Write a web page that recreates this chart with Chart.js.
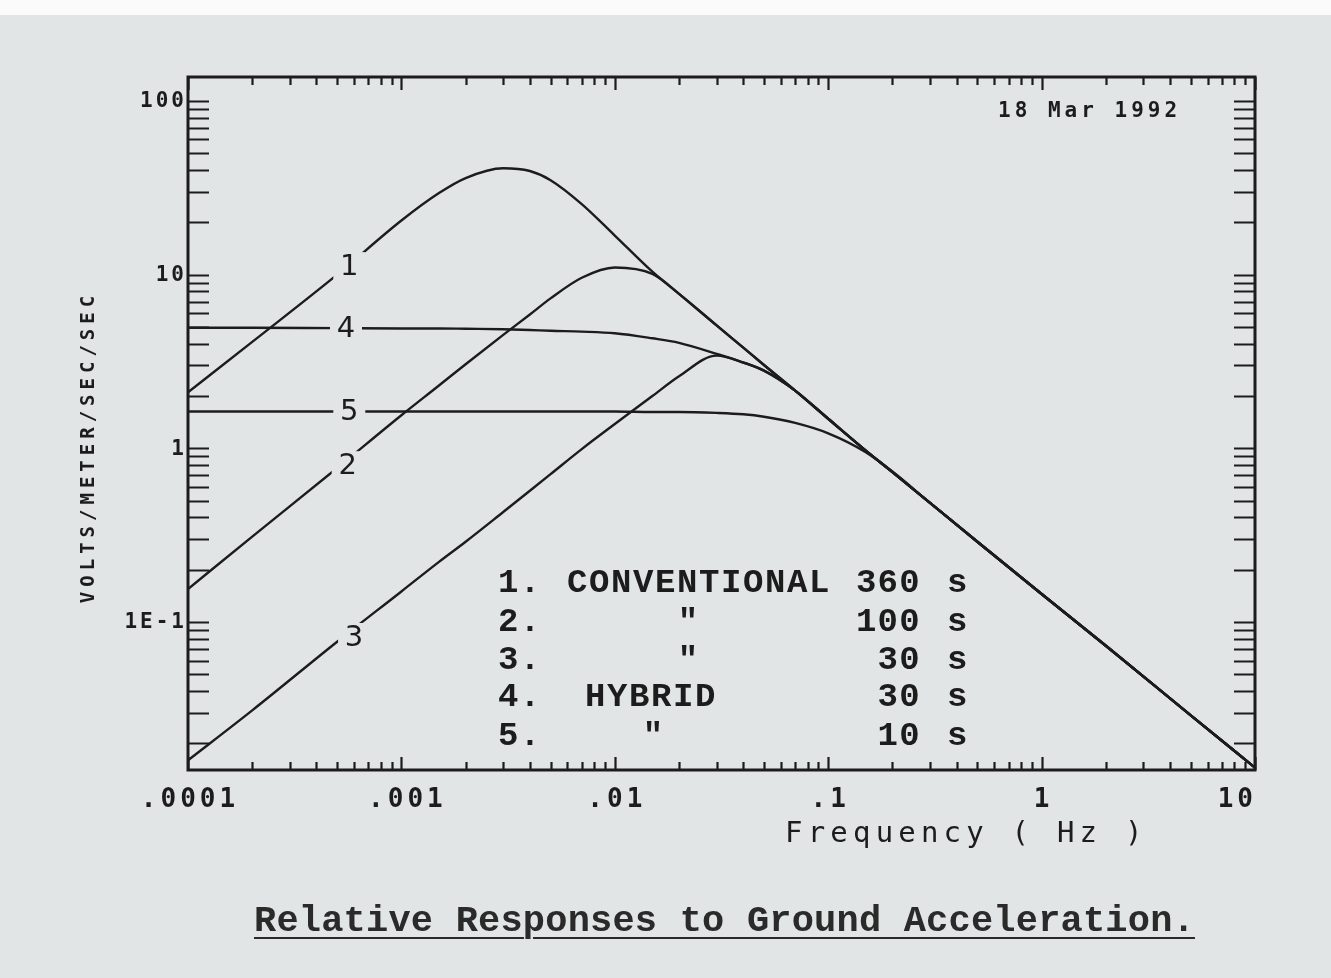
<!doctype html>
<html lang="en">
<head>
    <title>Relative Responses to Ground Acceleration</title>
    <meta charset="UTF-8">
    <style>
        html, body { margin: 0; padding: 0; background: #e2e5e5; overflow: hidden; }
        #strip { position: absolute; left: 0; top: 0; width: 1331px; height: 15px; background: #fbfbfb; }
        #wrap { position: absolute; left: 0; top: 0; width: 1331px; height: 978px; }
        #caption {
            position: absolute; left: 254px; top: 900px;
            font: bold 37px "Liberation Mono", monospace; color: #2a2a2a;
            text-decoration: underline; text-decoration-thickness: 2px; text-underline-offset: 6px;
            white-space: nowrap; letter-spacing: 0.2px;
        }
    </style>
</head>
<body>
    <div id="strip"></div>
    <div id="wrap"><canvas id="resp" width="1331" height="978"></canvas></div>
    <div id="caption">Relative Responses to Ground Acceleration.</div>
<script src="https://cdn.jsdelivr.net/npm/chart.js@4.4.1/dist/chart.umd.min.js"></script>
<script>

    // frequency samples (Hz)
    let freqHz = [0.0001, 0.0002, 0.0005, 0.001, 0.0015, 0.002, 0.003, 0.004, 0.005, 0.007,
                  0.01, 0.015, 0.02, 0.03, 0.04, 0.05, 0.07, 0.1, 0.15, 0.2, 0.3, 0.5, 1, 2, 5, 10]

    // volts / (m/s^2) for each curve
    let conv360 = [2.1, 4.1, 10, 20.5, 29.5, 36, 41, 39.5, 35, 25.5,
                   16.8, 10.4, 7.75, 5.1, 3.8, 3.02, 2.15, 1.48, 0.97, 0.73, 0.485, 0.29, 0.145, 0.073, 0.029, 0.0145]
    let conv100 = [0.155, 0.31, 0.77, 1.55, 2.3, 3.05, 4.5, 5.9, 7.3, 9.6,
                   11.0, 10.1, 7.75, 5.1, 3.8, 3.02, 2.15, 1.48, 0.97, 0.73, 0.485, 0.29, 0.145, 0.073, 0.029, 0.0145]
    let conv30 = [0.016, 0.031, 0.077, 0.15, 0.222, 0.29, 0.43, 0.57, 0.71, 0.99,
                  1.38, 2.0, 2.6, 3.42, 3.12, 2.8, 2.15, 1.48, 0.97, 0.73, 0.485, 0.29, 0.145, 0.073, 0.029, 0.0145]
    let hyb30 = [4.95, 4.95, 4.92, 4.9, 4.9, 4.88, 4.85, 4.8, 4.75, 4.7,
                 4.6, 4.3, 4.05, 3.5, 3.12, 2.8, 2.15, 1.48, 0.97, 0.73, 0.485, 0.29, 0.145, 0.073, 0.029, 0.0145]
    let hyb10 = [1.63, 1.63, 1.63, 1.63, 1.63, 1.63, 1.63, 1.63, 1.63, 1.63,
                 1.63, 1.62, 1.62, 1.6, 1.57, 1.52, 1.40, 1.22, 0.95, 0.735, 0.485, 0.29, 0.145, 0.073, 0.029, 0.0145]

    let curveNames = ['1', '2', '3', '4', '5']
    let curveSeries = [conv360, conv100, conv30, hyb30, hyb10]
    // where the number sits on each curve [freq, value]
    let curveLabelAt = [[0.00057, 11.2], [0.00056, 0.80], [0.0006, 0.082], [0.00055, 4.92], [0.00057, 1.63]]

    // axis labels
    let xTickVals = [0.0001, 0.001, 0.01, 0.1, 1, 10]
    let xTickText = ['.0001', '.001', '.01', '.1', '1', '10']
    let yTickVals = [100, 10, 1, 0.1]
    let yTickText = ['100', '10', '1', '1E-1']

    // legend block
    let legendNum = ['1.', '2.', '3.', '4.', '5.']
    let legendType = ['CONVENTIONAL', '"', '"', 'HYBRID', '"']
    let legendPeriod = ['360', '100', '30', '30', '10']

    let ink = '#1c1c1c'
    let paper = '#e2e5e5'

    function txt(ctx, s, x, y, font, sp, align) {
        ctx.font = font
        ctx.letterSpacing = sp + 'px'
        ctx.textAlign = align || 'left'
        ctx.textBaseline = 'middle'
        ctx.fillText(s, x, y)
    }

    let plotDecor = {
        id: 'plotDecor',
        afterDatasetsDraw(chart) {
            let ctx = chart.ctx
            let xs = chart.scales.x, ys = chart.scales.y
            ctx.save()
            // curve numbers, with a small gap cut in the line
            curveLabelAt.forEach((p, i) => {
                let px = xs.getPixelForValue(p[0])
                let py = ys.getPixelForValue(p[1])
                ctx.fillStyle = paper
                ctx.fillRect(px - 16, py - 14, 32, 28)
                ctx.fillStyle = ink
                txt(ctx, curveNames[i], px, py + 1, '29px "DejaVu Sans"', 0, 'center')
            })
            ctx.restore()
        },
        afterDraw(chart) {
            let ctx = chart.ctx
            let a = chart.chartArea
            let xs = chart.scales.x, ys = chart.scales.y
            ctx.save()
            ctx.strokeStyle = ink
            ctx.fillStyle = ink

            // inward tick marks on all four sides
            ctx.lineWidth = 2.2
            for (let n = -5; n <= 2; n++) {
                for (let k = 1; k <= 9; k++) {
                    let v = k * Math.pow(10, n)
                    let major = k == 1
                    if (v >= xs.min * 0.999 && v <= xs.max * 1.001) {
                        let px = Math.round(xs.getPixelForValue(v)) + 0.5
                        let len = major ? 13 : 8
                        ctx.beginPath()
                        ctx.moveTo(px, a.bottom); ctx.lineTo(px, a.bottom - len)
                        ctx.moveTo(px, a.top); ctx.lineTo(px, a.top + len)
                        ctx.stroke()
                    }
                    if (v >= ys.min && v <= ys.max) {
                        let py = Math.round(ys.getPixelForValue(v)) + 0.5
                        ctx.beginPath()
                        ctx.moveTo(a.left, py); ctx.lineTo(a.left + 21, py)
                        ctx.moveTo(a.right, py); ctx.lineTo(a.right - 21, py)
                        ctx.stroke()
                    }
                }
            }

            // frame
            ctx.lineWidth = 3
            ctx.strokeRect(a.left, a.top, a.right - a.left, a.bottom - a.top)

            // tick labels
            xTickVals.forEach((v, i) => {
                let px = xs.getPixelForValue(v)
                let last = i == xTickVals.length - 1
                txt(ctx, xTickText[i], px + (i == 1 ? 6 : 2), a.bottom + 30, 'bold 26px "DejaVu Sans Mono"', 4, last ? 'right' : 'center')
            })
            yTickVals.forEach((v, i) => {
                let py = ys.getPixelForValue(v)
                txt(ctx, yTickText[i], a.left - 1, py + 1, 'bold 21px "DejaVu Sans Mono"', 3, 'right')
            })

            // axis titles
            txt(ctx, 'Frequency ( Hz )', 785, 834, '29px "DejaVu Sans Mono"', 5.2, 'left')
            ctx.save()
            ctx.translate(89, 447)
            ctx.rotate(-Math.PI / 2)
            txt(ctx, 'VOLTS/METER/SEC/SEC', 0, 0, 'bold 19px "DejaVu Sans Mono"', 5, 'center')
            ctx.restore()

            // date stamp
            txt(ctx, '18 Mar 1992', 998, 112, 'bold 21px "DejaVu Sans Mono"', 4, 'left')

            // legend
            let rows = [583, 622, 660, 697, 736]
            let lf = 'bold 34px "Liberation Mono"'
            rows.forEach((ry, i) => {
                txt(ctx, legendNum[i], 498, ry, lf, 1.3, 'left')
                if (legendType[i] == '"') {
                    let dx = i == 4 ? 653 : 688
                    txt(ctx, legendType[i], dx, ry, lf, 0, 'center')
                } else {
                    txt(ctx, legendType[i], i == 0 ? 567 : 585, ry, lf, 1.6, 'left')
                }
                txt(ctx, legendPeriod[i], 921, ry, lf, 1.3, 'right')
                txt(ctx, 's', 947, ry, lf, 0, 'left')
            })
            ctx.restore()
        }
    }

    let datasets = curveSeries.map((arr, i) => ({
        label: curveNames[i],
        data: freqHz.map((f, j) => ({x: f, y: arr[j]})),
        borderColor: ink,
        borderWidth: 2.4,
        pointRadius: 0,
        fill: false,
        cubicInterpolationMode: 'monotone'
    }))

    let respChart = new Chart(document.getElementById('resp'), {
        type: 'line',
        data: { datasets: datasets },
        options: {
            responsive: false,
            animation: false,
            layout: { padding: { left: 188, top: 77, right: 76, bottom: 208 } },
            scales: {
                x: { type: 'logarithmic', min: 0.0001, max: 10, display: false },
                y: { type: 'logarithmic', min: 0.01406, max: 137.4, display: false }
            },
            plugins: { legend: { display: false }, tooltip: { enabled: false } }
        },
        plugins: [plotDecor]
    })

</script>
</body>
</html>
